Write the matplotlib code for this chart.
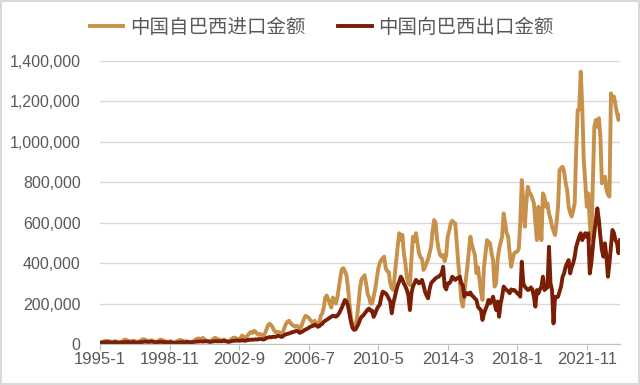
"""
China - Brazil monthly trade: imports from Brazil vs exports to Brazil
"""
import matplotlib.pyplot as plt
import matplotlib.ticker as mticker
import matplotlib as mtpl
import numpy as np

mtpl.rcParams['font.family'] = ['Liberation Sans', 'Noto Sans CJK SC', 'DejaVu Sans']
mtpl.rcParams['axes.unicode_minus'] = False

palette = ['#C8914B', '#7A1E06']
series_names = ['中国自巴西进口金额', '中国向巴西出口金额']

# monthly values, thousands, 1995-1 .. 2023-9
imports_k = [
    8, 10, 12, 14, 16, 15, 14, 12, 10, 12, 14, 12,                  # 1995
    10, 9, 12, 16, 20, 22, 18, 15, 12, 14, 16, 14,                  # 1996
    12, 10, 14, 18, 22, 24, 20, 16, 14, 16, 18, 15,                 # 1997
    12, 10, 14, 18, 22, 20, 17, 14, 12, 10, 12, 14,                 # 1998
    10, 8, 10, 14, 18, 20, 18, 15, 12, 14, 12, 10,                  # 1999
    10, 12, 15, 20, 25, 28, 26, 22, 30, 24, 18, 15,                 # 2000
    14, 16, 20, 26, 30, 28, 24, 20, 18, 20, 22, 18,                 # 2001
    15, 14, 18, 25, 30, 32, 28, 24, 22, 30, 42, 35,                 # 2002
    30, 35, 45, 55, 60, 55, 65, 60, 50, 45, 50, 45,                 # 2003
    40, 50, 70, 90, 100, 95, 85, 70, 60, 55, 60, 55,                # 2004
    50, 60, 80, 100, 110, 115, 105, 95, 90, 85, 90, 85,             # 2005
    75, 85, 105, 125, 140, 135, 130, 120, 110, 105, 115, 105,       # 2006
    90, 100, 140, 150, 180, 230, 240, 220, 200, 180, 230, 220,      # 2007
    200, 230, 280, 330, 370, 375, 360, 340, 280, 200, 130, 95,      # 2008
    85, 90, 130, 200, 280, 320, 330, 340, 300, 250, 230, 200,       # 2009
    200, 234, 270, 320, 370, 400, 415, 425, 432, 375, 360, 356,     # 2010
    300, 275, 267, 340, 415, 490, 548, 514, 540, 449, 399, 330,     # 2011
    300, 292, 420, 531, 510, 548, 500, 449, 430, 420, 366, 380,     # 2012
    400, 420, 450, 481, 560, 613, 600, 514, 470, 440, 432, 440,     # 2013
    410, 440, 531, 560, 597, 610, 600, 597, 500, 399, 317, 218,     # 2014
    185, 250, 320, 382, 460, 531, 490, 465, 440, 350, 380, 320,     # 2015
    260, 218, 382, 450, 514, 505, 498, 450, 415, 284, 300, 415,     # 2016
    470, 500, 531, 646, 600, 548, 530, 450, 382, 420, 449, 455,     # 2017
    457, 470, 600, 811, 700, 580, 700, 778, 750, 740, 720, 696,     # 2018
    600, 514, 679, 640, 514, 745, 729, 679, 696, 646, 620, 580,     # 2019
    560, 539, 600, 679, 861, 870, 877, 852, 800, 762, 679, 650,     # 2020
    630, 660, 696, 960, 1158, 1160, 1347, 1174, 910, 800, 679, 745, # 2021
    597, 514, 795, 1075, 1108, 1075, 1117, 1025, 795, 810, 828, 762,  # 2022
    740, 729, 1240, 1207, 1224, 1180, 1141, 1108, 1130,             # 2023
]

exports_k = [
    5, 6, 8, 8, 10, 9, 8, 8, 7, 8, 9, 8,                            # 1995
    6, 5, 7, 8, 9, 10, 9, 9, 8, 9, 10, 9,                           # 1996
    7, 6, 8, 9, 10, 11, 12, 11, 10, 11, 12, 11,                     # 1997
    9, 8, 9, 10, 11, 10, 9, 9, 8, 8, 9, 8,                          # 1998
    6, 5, 6, 7, 8, 8, 9, 9, 8, 9, 10, 9,                            # 1999
    8, 8, 10, 11, 12, 12, 13, 13, 12, 13, 14, 13,                   # 2000
    11, 10, 12, 13, 14, 14, 13, 14, 13, 14, 15, 14,                 # 2001
    12, 10, 12, 14, 16, 16, 17, 17, 16, 17, 18, 17,                 # 2002
    16, 18, 20, 20, 22, 21, 22, 23, 22, 24, 25, 24,                 # 2003
    22, 24, 30, 32, 34, 33, 35, 36, 35, 38, 40, 38,                 # 2004
    35, 38, 45, 48, 50, 52, 55, 58, 60, 62, 65, 63,                 # 2005
    55, 58, 62, 68, 72, 75, 80, 85, 88, 90, 95, 92,                 # 2006
    85, 88, 95, 100, 110, 115, 120, 125, 130, 135, 140, 138,        # 2007
    135, 140, 150, 165, 180, 200, 218, 210, 190, 150, 110, 80,      # 2008
    70, 72, 85, 100, 120, 135, 140, 150, 160, 170, 175, 165,        # 2009
    165, 134, 150, 170, 185, 193, 230, 259, 255, 250, 240, 225,     # 2010
    210, 152, 200, 233, 265, 292, 310, 333, 320, 300, 285, 267,     # 2011
    240, 168, 250, 284, 300, 317, 310, 300, 305, 317, 290, 259,     # 2012
    240, 226, 270, 300, 310, 317, 325, 330, 333, 340, 350, 382,     # 2013
    284, 270, 300, 300, 310, 333, 325, 317, 325, 325, 333, 300,     # 2014
    290, 234, 250, 251, 245, 255, 240, 234, 225, 218, 185, 175,     # 2015
    168, 119, 150, 172, 190, 218, 201, 215, 234, 200, 168, 210,     # 2016
    135, 200, 234, 284, 275, 267, 260, 251, 270, 265, 267, 260,     # 2017
    251, 245, 234, 407, 300, 284, 275, 267, 270, 280, 270, 234,     # 2018
    185, 267, 250, 270, 284, 333, 267, 275, 280, 481, 300, 267,     # 2019
    102, 234, 230, 234, 260, 284, 333, 350, 382, 400, 415, 349,     # 2020
    380, 399, 432, 481, 506, 531, 548, 514, 530, 548, 530, 548,     # 2021
    349, 400, 481, 550, 613, 671, 613, 531, 465, 432, 498, 432,     # 2022
    333, 400, 481, 564, 548, 514, 498, 449, 514,                    # 2023
]

tick_labels = ['1995-1', '1998-11', '2002-9', '2006-7', '2010-5', '2014-3', '2018-1', '2021-11']
tick_step = 46


def plot_trade(figsize=(6.4, 3.85)):
    fig = plt.figure(figsize=figsize, dpi=100)
    fig.patch.set_edgecolor('#D9D9D9')
    fig.patch.set_linewidth(1.5)
    ax = fig.add_axes([0.1563, 0.1065, 0.8125, 0.7351])

    x = np.arange(len(imports_k))
    ax.plot(x, np.array(imports_k) * 1000, color=palette[0], lw=2.8,
            label=series_names[0], solid_joinstyle='round')
    ax.plot(x, np.array(exports_k) * 1000, color=palette[1], lw=2.8,
            label=series_names[1], solid_joinstyle='round')

    ax.set_xlim(0, len(imports_k) - 1)
    ax.set_ylim(0, 1400000)
    ax.set_yticks(np.arange(0, 1400001, 200000))
    ax.yaxis.set_major_formatter(mticker.FuncFormatter(lambda v, p: f'{int(v):,}'))
    ax.set_xticks(np.arange(len(tick_labels)) * tick_step)
    ax.set_xticklabels(tick_labels)

    ax.grid(axis='y', color='#D9D9D9', lw=1)
    ax.set_axisbelow(True)
    for s in ['left', 'right', 'top']:
        ax.spines[s].set_visible(False)
    ax.spines['bottom'].set_color('#BFBFBF')
    ax.tick_params(axis='y', length=0, pad=14, labelsize=11.5, labelcolor='#595959')
    ax.tick_params(axis='x', length=4, color='#BFBFBF', pad=2, labelsize=12,
                   labelcolor='#595959')

    fig.legend(loc='center', bbox_to_anchor=(0.503, 0.928), ncol=2, frameon=False,
               prop={'family': ['Noto Sans CJK SC', 'DejaVu Sans'], 'size': 14},
               labelcolor='#595959', handlelength=1.7, handletextpad=0.35,
               columnspacing=1.7)

    plt.savefig('out.png', dpi=100)


if __name__ == '__main__':
    plot_trade()
